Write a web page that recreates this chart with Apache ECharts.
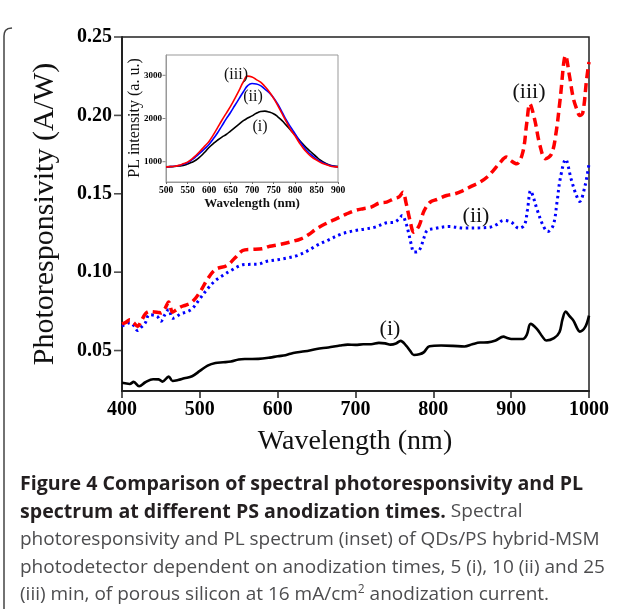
<!DOCTYPE html>
<html><head><meta charset="utf-8">
<script src="https://cdn.jsdelivr.net/npm/echarts@6/dist/echarts.min.js"></script>
<style>html,body{margin:0;padding:0;background:#fff}#c{width:625px;height:609px}</style>
</head><body><div id="c"></div>
<script>
// ---- Main chart data: spectral photoresponsivity (A/W) ----
var wlI = [400,410,415,422,430,440,447,452,460,465,472,480,490,500,510,520,530,540,550,560,575,590,600,610,620,635,650,665,680,690,700,710,720,730,738,745,752,758,765,770,775,782,788,795,810,825,840,850,860,870,880,890,895,900,915,920,925,933,940,945,955,962,966,970,975,980,985,988,995,1000];
var respI = [0.0294,0.0287,0.0300,0.0272,0.0298,0.0317,0.0316,0.0302,0.0334,0.0306,0.0312,0.0323,0.0336,0.0370,0.0404,0.0421,0.0425,0.0430,0.0443,0.0446,0.0447,0.0455,0.0464,0.0470,0.0485,0.0495,0.0510,0.0520,0.0532,0.0538,0.0536,0.0540,0.0540,0.0549,0.0546,0.0538,0.0545,0.0562,0.0532,0.0500,0.0472,0.0476,0.0490,0.0528,0.0532,0.0530,0.0526,0.0540,0.0551,0.0552,0.0564,0.0589,0.0580,0.0574,0.0574,0.0600,0.0670,0.0638,0.0590,0.0564,0.0579,0.0617,0.0700,0.0749,0.0720,0.0691,0.0640,0.0621,0.0649,0.0723];

var wlII = [400,405,410,415,420,425,430,435,445,450,455,460,465,470,475,482,490,500,510,520,530,540,555,565,575,585,600,612,625,640,650,665,680,690,700,712,725,740,750,756,760,765,768,772,775,780,784,788,792,800,820,840,860,873,882,890,900,910,917,921,925,929,933,941,947,954,959,963,970,977,983,988,995,1000];
var respII = [0.0655,0.0668,0.0677,0.0660,0.0628,0.0650,0.0677,0.0728,0.0719,0.0687,0.0728,0.0762,0.0706,0.0715,0.0734,0.0745,0.0766,0.0830,0.0894,0.0947,0.0980,0.1011,0.1047,0.1050,0.1051,0.1068,0.1079,0.1090,0.1106,0.1140,0.1170,0.1205,0.1240,0.1255,0.1266,0.1275,0.1287,0.1315,0.1319,0.1340,0.1362,0.1310,0.1255,0.1170,0.1128,0.1130,0.1160,0.1220,0.1266,0.1277,0.1291,0.1281,0.1283,0.1287,0.1305,0.1330,0.1319,0.1280,0.1300,0.1400,0.1520,0.1470,0.1404,0.1298,0.1259,0.1298,0.1450,0.1595,0.1719,0.1595,0.1500,0.1451,0.1553,0.1691];

var wlIII = [400,405,410,415,420,425,430,435,445,450,455,460,465,470,475,482,490,500,510,520,535,545,555,565,580,590,600,615,630,640,650,662,675,688,700,710,720,730,740,750,756,761,765,770,775,782,788,796,805,817,828,838,850,860,870,877,885,894,900,907,915,920,924,930,937,944,952,958,963,970,975,980,985,988,992,997,1000];
var respIII = [0.0670,0.0680,0.0696,0.0677,0.0655,0.0690,0.0734,0.0749,0.0745,0.0740,0.0766,0.0809,0.0745,0.0760,0.0777,0.0790,0.0809,0.0872,0.0957,0.1017,0.1043,0.1090,0.1138,0.1145,0.1149,0.1165,0.1174,0.1191,0.1213,0.1240,0.1277,0.1310,0.1340,0.1370,0.1394,0.1405,0.1415,0.1440,0.1447,0.1470,0.1480,0.1510,0.1440,0.1330,0.1255,0.1300,0.1390,0.1447,0.1465,0.1489,0.1500,0.1520,0.1550,0.1574,0.1610,0.1648,0.1695,0.1734,0.1710,0.1691,0.1766,0.1950,0.2074,0.1978,0.1808,0.1723,0.1755,0.1900,0.2106,0.2382,0.2250,0.2106,0.2030,0.2000,0.2015,0.2233,0.2340];

var mainYTicks = [0.05,0.10,0.15,0.20,0.25];

// ---- Inset data: PL intensity (a. u.) ----
var wlPL = [500,510,520,530,540,550,560,570,580,590,600,610,620,630,640,650,660,670,680,690,700,710,720,730,740,750,760,770,780,790,800,810,820,830,840,850,860,870,880,890,900];
var plI = [880,885,890,900,915,945,985,1040,1120,1220,1330,1420,1500,1570,1630,1710,1790,1870,1950,2010,2060,2120,2160,2170,2150,2110,2040,1950,1840,1730,1620,1500,1390,1290,1200,1110,1030,970,925,900,885];
var plII = [880,885,895,910,940,975,1040,1120,1210,1300,1400,1530,1670,1830,1990,2140,2300,2460,2620,2760,2810,2800,2760,2680,2600,2480,2330,2150,1960,1800,1650,1490,1350,1230,1140,1060,1000,950,915,892,880];
var plIII = [880,885,895,915,950,990,1060,1150,1250,1360,1470,1620,1790,1960,2120,2280,2460,2650,2850,2980,2960,2900,2840,2740,2620,2470,2300,2110,1920,1740,1600,1440,1300,1190,1100,1040,980,940,905,885,880];
var insetYTicks = [1000,2000,3000];

function pairs(xs, ys){ return xs.map(function(x,i){ return [x, ys[i]]; }); }
function plain(v){ return String(v); }

var serif = 'Liberation Serif';
var chart = echarts.init(document.getElementById('c'), null, {renderer:'canvas'});

var option = {
  backgroundColor: '#fff',
  animation: false,
  grid: [
    {left:122, top:37, width:467, height:354, show:true, borderColor:'#222', borderWidth:1.5, backgroundColor:'transparent'},
    {left:166, top:55, width:172, height:127, show:true, borderColor:'#999', borderWidth:1, backgroundColor:'#fff', z:5}
  ],
  xAxis: [
    {gridIndex:0, type:'value', min:400, max:1000, interval:100,
     axisLine:{show:true, onZero:false, lineStyle:{color:'#222', width:2}},
     axisTick:{show:true, inside:false, length:7, lineStyle:{color:'#222', width:1.5}},
     axisLabel:{color:'#000', fontFamily:serif, fontWeight:'bold', fontSize:20, margin:9, formatter:plain},
     splitLine:{show:false}},
    {gridIndex:1, type:'value', min:500, max:900, interval:50, z:6,
     axisLine:{show:true, onZero:false, lineStyle:{color:'#999', width:1}},
     axisTick:{show:true, length:2, lineStyle:{color:'#666'}},
     axisLabel:{color:'#000', fontFamily:serif, fontWeight:'bold', fontSize:9.5, margin:4, formatter:plain},
     splitLine:{show:false}}
  ],
  yAxis: [
    {gridIndex:0, type:'value', min:0.0242, max:0.25,
     axisLine:{show:true, onZero:false, lineStyle:{color:'#222', width:2}},
     axisTick:{show:false},
     axisLabel:{color:'#000', fontFamily:serif, fontWeight:'bold', fontSize:20, margin:10, customValues:mainYTicks,
       formatter:function(v){ return v.toFixed(2); }},
     splitLine:{show:false}},
    {gridIndex:1, type:'value', min:530, max:3470, z:6,
     axisLine:{show:true, onZero:false, lineStyle:{color:'#999', width:1}},
     axisTick:{show:false},
     axisLabel:{color:'#000', fontFamily:serif, fontWeight:'bold', fontSize:9, margin:4, customValues:insetYTicks, formatter:plain},
     splitLine:{show:false}}
  ],
  series: [
    {type:'line', xAxisIndex:0, yAxisIndex:0, data:pairs(wlI, respI), showSymbol:false, smooth:0.35,
     lineStyle:{color:'#000', width:2.6}, z:3},
    {type:'line', xAxisIndex:0, yAxisIndex:0, data:pairs(wlII, respII), showSymbol:false, smooth:0.35,
     lineStyle:{color:'#0000ff', width:3, type:[2.5,3.5], cap:'butt'}, z:3},
    {type:'line', xAxisIndex:0, yAxisIndex:0, data:pairs(wlIII, respIII), showSymbol:false, smooth:0.35,
     lineStyle:{color:'#ff0000', width:3.5, type:[9,5]}, z:3},
    {type:'line', xAxisIndex:1, yAxisIndex:1, data:pairs(wlPL, plI), showSymbol:false, smooth:true,
     lineStyle:{color:'#000', width:1.6}, z:7},
    {type:'line', xAxisIndex:1, yAxisIndex:1, data:pairs(wlPL, plII), showSymbol:false, smooth:true,
     lineStyle:{color:'#0000ff', width:1.6}, z:7},
    {type:'line', xAxisIndex:1, yAxisIndex:1, data:pairs(wlPL, plIII), showSymbol:false, smooth:true,
     lineStyle:{color:'#ff0000', width:1.6}, z:7},
    // y-axis tick marks (outward), placed through the axis scales
    {type:'scatter', xAxisIndex:0, yAxisIndex:0, clip:false, silent:true, z:4,
     data:mainYTicks.map(function(v){ return [400, v]; }),
     symbol:'rect', symbolSize:[7,1.6], symbolOffset:[-4.5,0], itemStyle:{color:'#222'}},
    {type:'scatter', xAxisIndex:1, yAxisIndex:1, clip:false, silent:true, z:8,
     data:insetYTicks.map(function(v){ return [500, v]; }),
     symbol:'rect', symbolSize:[3,1], symbolOffset:[-2,0], itemStyle:{color:'#666'}}
  ],
  graphic: [
    {type:'polyline', shape:{points:[[12,28],[8,28.6],[5.5,30.5],[4.4,33],[4,36],[4,609]]}, style:{stroke:'#444', lineWidth:1.5, fill:null}},
    {type:'text', x:45, y:214, rotation:Math.PI/2, style:{text:'Photoresponsivity (A/W)', font:'30px "Liberation Serif"', fill:'#111', align:'center', verticalAlign:'middle'}},
    {type:'text', x:355, y:442, style:{text:'Wavelength (nm)', font:'28px "Liberation Serif"', fill:'#111', align:'center', verticalAlign:'middle'}},
    {type:'text', x:390, y:329, style:{text:'(i)', font:'22px "Liberation Serif"', fill:'#111', align:'center', verticalAlign:'middle'}},
    {type:'text', x:476, y:216, style:{text:'(ii)', font:'22px "Liberation Serif"', fill:'#111', align:'center', verticalAlign:'middle'}},
    {type:'text', x:529, y:92, style:{text:'(iii)', font:'22px "Liberation Serif"', fill:'#111', align:'center', verticalAlign:'middle'}},
    {type:'text', x:252, y:204, z:10, style:{text:'Wavelength (nm)', font:'bold 13px "Liberation Serif"', fill:'#111', align:'center', verticalAlign:'middle'}},
    {type:'text', x:135, y:118, z:10, rotation:Math.PI/2, style:{text:'PL intensity (a. u.)', font:'16px "Liberation Serif"', fill:'#111', align:'center', verticalAlign:'middle'}},
    {type:'text', x:236, y:75, z:10, style:{text:'(iii)', font:'16px "Liberation Serif"', fill:'#111', align:'center', verticalAlign:'middle'}},
    {type:'text', x:253, y:97, z:10, style:{text:'(ii)', font:'16px "Liberation Serif"', fill:'#111', align:'center', verticalAlign:'middle'}},
    {type:'text', x:260, y:127, z:10, style:{text:'(i)', font:'16px "Liberation Serif"', fill:'#111', align:'center', verticalAlign:'middle'}},
    {type:'text', x:20, y:484, style:{text:'Figure 4 Comparison of spectral photoresponsivity and PL', font:'bold 19.6px "Open Sans"', fill:'#231f20', verticalAlign:'middle'}},
    {type:'text', x:20, y:512, style:{text:'{b|spectrum at different PS anodization times.}{n| Spectral}', verticalAlign:'middle',
      rich:{b:{font:'bold 19.6px "Open Sans"', fill:'#231f20'}, n:{font:'19px "Open Sans"', fill:'#4d4d4f'}}}},
    {type:'text', x:20, y:540, style:{text:'photoresponsivity and PL spectrum (inset) of QDs/PS hybrid-MSM', font:'19px "Open Sans"', fill:'#4d4d4f', verticalAlign:'middle'}},
    {type:'text', x:20, y:568, style:{text:'photodetector dependent on anodization times, 5 (i), 10 (ii) and 25', font:'19px "Open Sans"', fill:'#4d4d4f', verticalAlign:'middle'}},
    {type:'text', x:20, y:595, style:{text:'{n|(iii) min, of porous silicon at 16 mA/cm}{s|2}{n| anodization current.}', verticalAlign:'middle',
      rich:{n:{font:'19px "Open Sans"', fill:'#4d4d4f'}, s:{font:'12px "Open Sans"', fill:'#4d4d4f', verticalAlign:'top', padding:[0,0,10,0]}}}}
  ]
};
chart.setOption(option);
</script></body></html>
